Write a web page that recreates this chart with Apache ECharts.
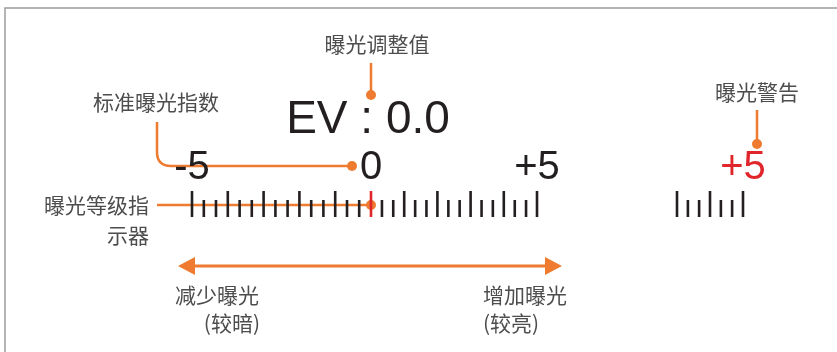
<!DOCTYPE html>
<html>
<head>
<meta charset="utf-8">
<script src="https://cdn.jsdelivr.net/npm/echarts@6/dist/echarts.min.js"></script>
<style>
  html, body { margin: 0; padding: 0; background: #fff; }
  #main { width: 837px; height: 352px; }
</style>
</head>
<body>
<div id="main"></div>
<script>
// 曝光刻度（1/3 EV 一格）
const meterSteps = [-5, -4.67, -4.33, -4, -3.67, -3.33, -3, -2.67, -2.33, -2, -1.67, -1.33, -1, -0.67, -0.33, 0,
  0.33, 0.67, 1, 1.33, 1.67, 2, 2.33, 2.67, 3, 3.33, 3.67, 4, 4.33, 4.67, 5];
const warnSteps = [3, 3.33, 3.67, 4, 4.33, 4.67, 5];
const scaleLabels = { '-5': '-5', '0': '0', '5': '+5' };
const warnLabels = { '5': '+5' };
const currentEV = 0.0;

const BLACK = '#231f20';
const RED = '#e1262b';
const ORANGE = '#ee7b30';
const GRAY = '#4d4d4d';
const CJK = '"Noto Sans CJK SC", sans-serif';
const LATIN = '"Liberation Sans", Arial, sans-serif';

let myChart = echarts.init(document.getElementById('main'));

function tickRender(params, api) {
  const v = api.value(0);
  const p = api.coord([v, 0]);
  const major = Math.abs(v - Math.round(v)) < 0.01;
  const h = major ? 26 : 17;
  const color = v === currentEV && params.seriesIndex < 2 ? RED : BLACK;
  return {
    type: 'rect',
    shape: { x: p[0] - 1.3, y: p[1] - h, width: 2.6, height: h },
    style: { fill: color }
  };
}

function axisFor(grid, min, max, interval, labels, color) {
  return {
    gridIndex: grid, type: 'value', min: min, max: max, interval: interval,
    position: 'top',
    axisLine: { show: false }, axisTick: { show: false }, splitLine: { show: false },
    axisLabel: {
      margin: 3, fontSize: 40, fontFamily: LATIN, color: color,
      formatter: v => labels[v] || ''
    }
  };
}

let option = {
  animation: false,
  grid: [
    { left: 192, right: 466, top: 191, height: 26, outerBoundsMode: 'none' },
    { left: 371, right: 300, top: 191, height: 26, outerBoundsMode: 'none' },
    { left: 677, right: 94, top: 191, height: 26, outerBoundsMode: 'none' }
  ],
  xAxis: [
    axisFor(0, -5, 0, 5, scaleLabels, BLACK),
    axisFor(1, 0, 5, 5, { '5': scaleLabels['5'] }, BLACK),
    axisFor(2, 3, 5, 1, warnLabels, RED)
  ],
  yAxis: [0, 1, 2].map(i => ({ gridIndex: i, type: 'value', min: 0, max: 1, show: false })),
  series: [
    { type: 'custom', xAxisIndex: 0, yAxisIndex: 0, renderItem: tickRender,
      data: meterSteps.filter(v => v < 0).map(v => [v, 0]) },
    { type: 'custom', xAxisIndex: 1, yAxisIndex: 1, renderItem: tickRender, z: 3,
      data: meterSteps.filter(v => v >= 0).map(v => [v, 0]) },
    { type: 'custom', xAxisIndex: 2, yAxisIndex: 2, renderItem: tickRender,
      data: warnSteps.map(v => [v, 0]) }
  ]
};
myChart.setOption(option);

// 注释（引线、文字）
const x0 = myChart.convertToPixel({ xAxisIndex: 1 }, currentEV);
const xWarn = 757;
const lineStyle = { fill: null, stroke: ORANGE, lineWidth: 2.5 };
function dot(x, y) {
  return { type: 'circle', shape: { cx: x, cy: y, r: 5 }, style: { fill: ORANGE } };
}
function lead(points) {
  return { type: 'polyline', shape: { points: points }, style: lineStyle };
}
function label(text, x, y, align) {
  return { type: 'text', style: { text: text, x: x, y: y, align: align || 'center', verticalAlign: 'middle',
    font: '21px ' + CJK, fill: GRAY } };
}
myChart.setOption({
  graphic: [
    { type: 'rect', shape: { x: 5, y: 8, width: 900, height: 400 }, style: { fill: null, stroke: '#9d9d9d', lineWidth: 1.5 } },
    // EV 数值
    { type: 'text', style: { text: 'EV : ' + currentEV.toFixed(1), x: 368, y: 120, align: 'center', verticalAlign: 'middle',
      font: '46px ' + LATIN, fill: BLACK } },
    label('曝光调整值', 377, 44),
    lead([[x0, 63], [x0, 95]]), dot(x0, 95),
    label('标准曝光指数', 156, 102),
    lead([[157, 122], [157, 152]]),
    { type: 'bezierCurve', shape: { x1: 157, y1: 152, cpx1: 157, cpy1: 166, x2: 171, y2: 166 }, style: lineStyle },
    lead([[171, 166], [352, 166]]), dot(352, 166),
    label('曝光等级指', 149, 205, 'right'),
    label('示器', 149, 235, 'right'),
    lead([[157, 205], [x0, 205]]), dot(x0, 205),
    label('曝光警告', xWarn, 92),
    lead([[xWarn, 110], [xWarn, 144]]), dot(xWarn, 144),
    // 双向箭头
    { type: 'line', shape: { x1: 192, y1: 266, x2: 548, y2: 266 }, style: { stroke: ORANGE, lineWidth: 3 } },
    { type: 'polygon', shape: { points: [[178, 266], [195, 257], [195, 275]] }, style: { fill: ORANGE } },
    { type: 'polygon', shape: { points: [[562, 266], [545, 257], [545, 275]] }, style: { fill: ORANGE } },
    label('减少曝光', 259, 295, 'right'),
    label('(较暗)', 260, 323, 'right'),
    label('增加曝光', 483, 295, 'left'),
    label('(较亮)', 483, 323, 'left')
  ]
});
</script>
</body>
</html>
